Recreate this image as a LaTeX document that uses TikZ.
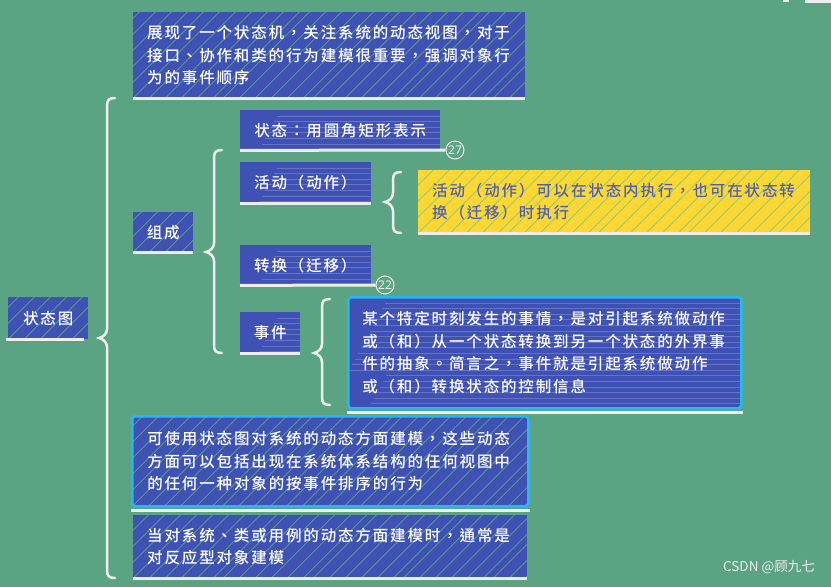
\documentclass[tikz,border=0pt]{standalone}
\usepackage{fontspec}
\newfontfamily\cjk[LetterSpace=12, UprightFont=* Medium]{Noto Sans CJK TC}
\newfontfamily\plaincjk{Noto Sans CJK SC}
\newfontfamily\numfont{Noto Sans}
\usetikzlibrary{calc}
\definecolor{bg}{RGB}{90,164,131}
\definecolor{boxblue}{RGB}{63,81,181}
\definecolor{boxyellow}{RGB}{253,216,53}
\definecolor{ytext}{RGB}{82,96,172}
\definecolor{cyanedge}{RGB}{41,182,246}
\definecolor{chalk}{RGB}{238,238,238}
\definecolor{streak}{RGB}{104,192,128}
\newcommand\chalkbrace[4]{% x, top, tip, bottom
  \draw[bracestroke] (#1+8,#2) .. controls (#1+2,#2) and (#1,#2+2) .. (#1,#2+8)
    -- (#1,#3-9) .. controls (#1,#3-4) and (#1-4,#3-1) .. (#1-8,#3)
    .. controls (#1-4,#3+1) and (#1,#3+4) .. (#1,#3+9)
    -- (#1,#4-8) .. controls (#1,#4-2) and (#1+2,#4) .. (#1+8,#4);}
\tikzset{
  x=1pt, y=-1pt,
  txt/.style={font=\cjk\fontsize{15.5}{22.5}\selectfont},
  box/.style={txt, rectangle, anchor=north west, inner xsep=14pt, inner ysep=0pt,
    align=left, text=white, fill=boxblue},
  diag/.style={path picture={\foreach \i [evaluate=\i as \xo using {\i*15+mod(\i*7,6)}] in {-8,...,30}
      \draw[streak, line width=0.7pt, opacity=0.75]
      ($(path picture bounding box.south west)+(\xo,0)$) -- ++(120,-120);}},
  horiz/.style={path picture={\foreach \j [evaluate=\j as \hs using {mod(\j*37,40)},
        evaluate=\j as \hy using {\j*5.6},
        evaluate=\j as \hl using {500-mod(\j*53,90)}] in {1,...,20}
      \draw[boxblue!50!white, line width=0.6pt, opacity=0.4]
      ($(path picture bounding box.north west)+(\hs,\hy)$) -- ++(\hl,0);}},
  cyanbox/.style={draw=cyanedge, line width=2.5pt, rounded corners=3pt},
  uline/.style={draw=chalk, line width=3pt},
  bracestroke/.style={draw=chalk, line width=2.5pt, line cap=round},
  badge/.style={circle, draw=chalk, line width=1pt, minimum size=18pt, inner sep=0pt,
    text=chalk, font=\numfont\fontsize{12}{12}\selectfont},
}
\begin{document}
\begin{tikzpicture}
\fill[bg] (0,0) rectangle (831,587);
\useasboundingbox (0,0) rectangle (831,587);

% cropped element at the top right
\draw[uline] (805,1.5) -- (831,1.5);
\draw[uline] (783,0.5) -- (789,0.5);

% root
\node[box, diag, minimum width=80pt, minimum height=42pt, inner xsep=8pt] (root) at (8,297) {状态图};

% top description
\node[box, diag, minimum width=392pt, minimum height=86pt, text width=364pt] (desc) at (133,12)
  {展现了一个状态机，关注系统的动态视图，对于\\接口、协作和类的行为建模很重要，强调对象行\\为的事件顺序};

% composition
\node[box, diag, minimum width=60pt, minimum height=40pt, inner xsep=4pt] (comp) at (133,212) {组成};

\node[box, horiz, minimum width=200pt, minimum height=40pt] (state) at (240,110) {状态：用圆角矩形表示};
\node[box, horiz, minimum width=130pt, minimum height=41pt] (act) at (240,162) {活动（动作）};
\node[box, horiz, minimum width=130pt, minimum height=40pt] (trans) at (240,245) {转换（迁移）};
\node[box, horiz, minimum width=60pt, minimum height=41pt, inner xsep=4pt] (event) at (240,312) {事件};

\node[box, diag, fill=boxyellow, text=ytext, minimum width=392pt, minimum height=63pt, text width=364pt] (actnote) at (418,170)
  {活动（动作）可以在状态内执行，也可在状态转\\换（迁移）时执行};

\node[box, horiz, cyanbox, fill=boxblue, minimum width=393pt, minimum height=111pt, text width=365pt] (evnote) at (347,296)
  {某个特定时刻发生的事情，是对引起系统做动作\\或（和）从一个状态转换到另一个状态的外界事\\件的抽象。简言之，事件就是引起系统做动作\\或（和）转换状态的控制信息};

\node[box, diag, cyanbox, fill=boxblue, minimum width=396pt, minimum height=90pt, text width=366pt, inner xsep=15pt] (use) at (131,415)
  {可使用状态图对系统的动态方面建模，这些动态\\方面可以包括出现在系统体系结构的任何视图中\\的任何一种对象的按事件排序的行为};

\node[box, diag, minimum width=394pt, minimum height=63pt, text width=366pt] (react) at (133,515)
  {当对系统、类或用例的动态方面建模时，通常是\\对反应型对象建模};

% badges
\node[badge] (b27) at (455,150) {27};
\node[badge] (b22) at (385,285) {22};

% underlines
\draw[uline] ([xshift=-2pt]root.south west) -- ([xshift=-4pt]root.south east);
\draw[uline] (desc.south west) -- (desc.south east);
\draw[uline] (comp.south west) -- (comp.south east);
\draw[uline] (state.south west) -- (b27.west);
\draw[uline] (act.south west) -- (act.south east);
\draw[uline] (trans.south west) -- (b22.west);
\draw[uline] (event.south west) -- (event.south east);
\draw[uline] (actnote.south west) -- (actnote.south east);
\draw[uline] ([yshift=-3pt]evnote.south west) -- ([yshift=-3pt]evnote.south east);
\draw[uline] ([yshift=-3pt]use.south west) -- ([yshift=-3pt]use.south east);
\draw[uline] (react.south west) -- (react.south east);

% braces (connectors)
\chalkbrace{107}{98}{338}{578}
\chalkbrace{214}{150}{252}{353}
\chalkbrace{393}{172}{202}{233}
\chalkbrace{322}{299}{353}{405}

% watermark
\node[anchor=east, text=chalk, font=\plaincjk\fontsize{13.5}{13.5}\selectfont, inner sep=0pt] (wm) at (815,567) {CSDN @顾九七};
\end{tikzpicture}
\end{document}
